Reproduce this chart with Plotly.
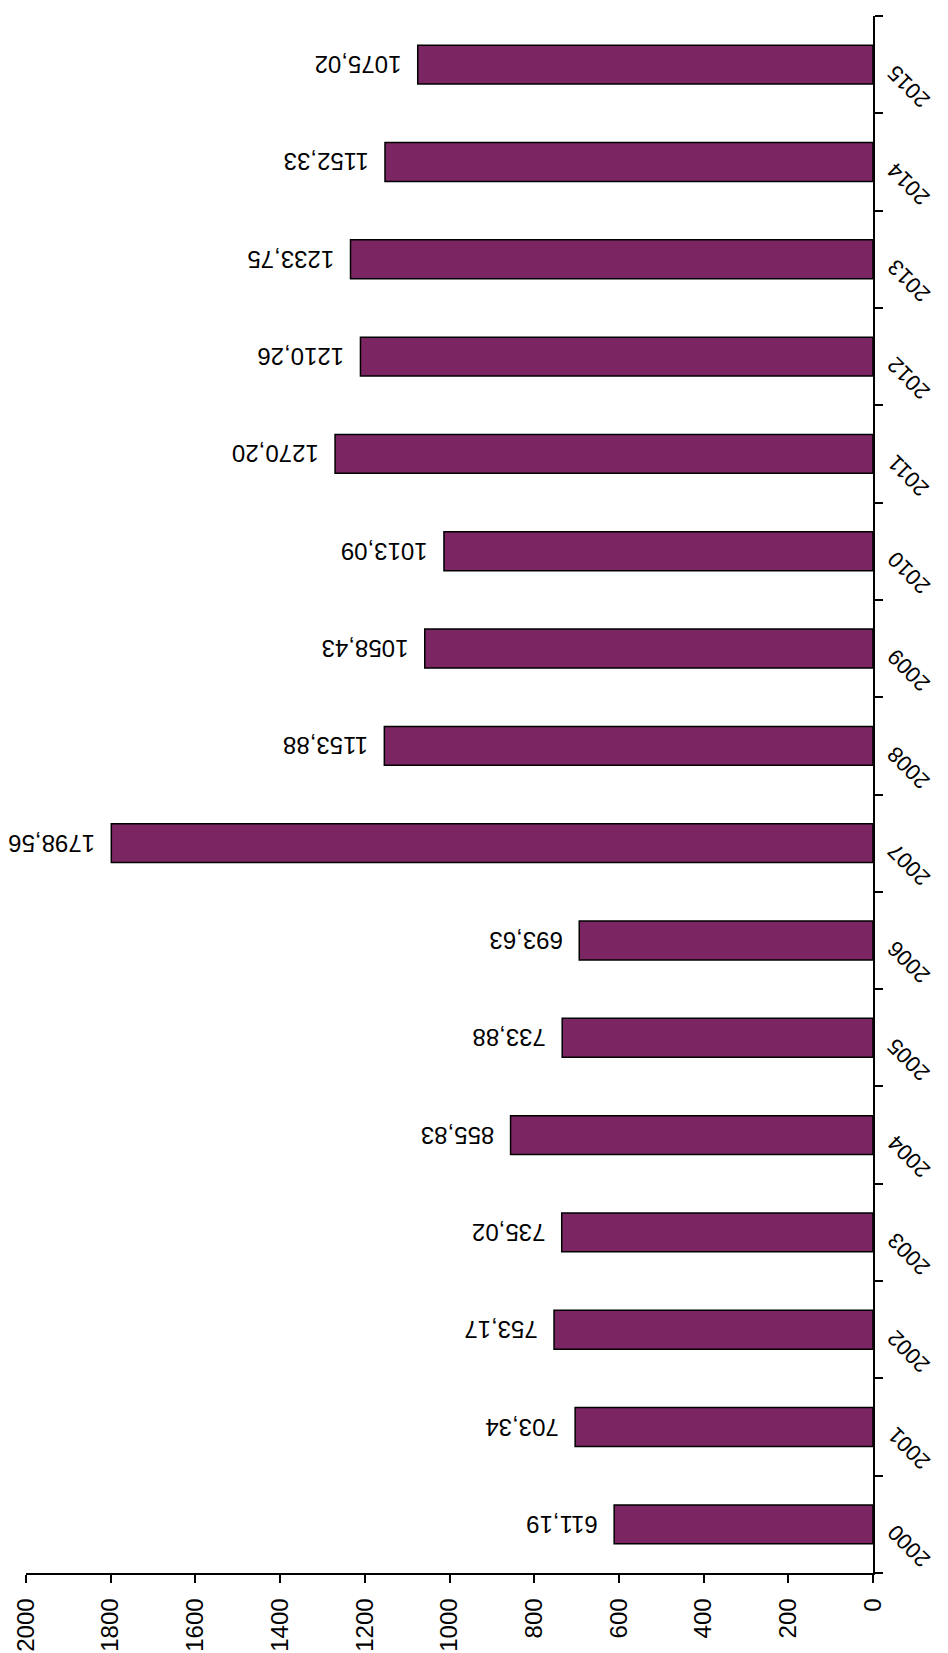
import plotly.graph_objects as go

years = [str(y) for y in range(2000, 2016)]
values = [611.19, 703.34, 753.17, 735.02, 855.83, 733.88, 693.63, 1798.56,
          1153.88, 1058.43, 1013.09, 1270.20, 1210.26, 1233.75, 1152.33, 1075.02]
value_ticks = [0, 200, 400, 600, 800, 1000, 1200, 1400, 1600, 1800, 2000]

labels = ["\u00a0\u00a0" + f"{v:.2f}".replace(".", ",") for v in values]

FONT = "Liberation Sans, Arial, sans-serif"

fig = go.Figure(go.Bar(
    x=values, y=years, orientation="h",
    marker=dict(color="#7B2563", line=dict(color="black", width=1.5)),
    text=labels, textposition="outside", textangle=180,
    textfont=dict(family=FONT, size=24, color="black"),
    cliponaxis=False,
))

fig.update_layout(
    width=948, height=1653,
    margin=dict(l=18, r=83, t=8, b=88, autoexpand=False),
    paper_bgcolor="white", plot_bgcolor="white",
    bargap=0.6, showlegend=False,
    font=dict(family=FONT, color="black"),
)
fig.update_xaxes(
    range=[2000, 0], tickvals=value_ticks, tickangle=-90,
    ticks="outside", ticklen=8, tickwidth=1.5, tickcolor="black",
    showline=True, linecolor="black", linewidth=1.5,
    showgrid=False, zeroline=False, tickfont=dict(size=24),
    automargin=False, ticklabelstandoff=6,
)
fig.update_yaxes(
    type="category", categoryorder="array", categoryarray=years,
    range=[-0.5, len(years) - 0.5], side="right", showticklabels=False,
    tickson="boundaries", ticks="outside", ticklen=8, tickwidth=1.5, tickcolor="black",
    showline=True, linecolor="black", linewidth=1.5,
    showgrid=False, automargin=False,
)

for i, yr in enumerate(years):
    fig.add_annotation(
        x=1, xref="paper", y=i, yref="y", text=yr, showarrow=False,
        textangle=-135, xanchor="center", yanchor="middle",
        xshift=36, yshift=-22, font=dict(family=FONT, size=22, color="black"),
    )

fig.write_html("out.html")
